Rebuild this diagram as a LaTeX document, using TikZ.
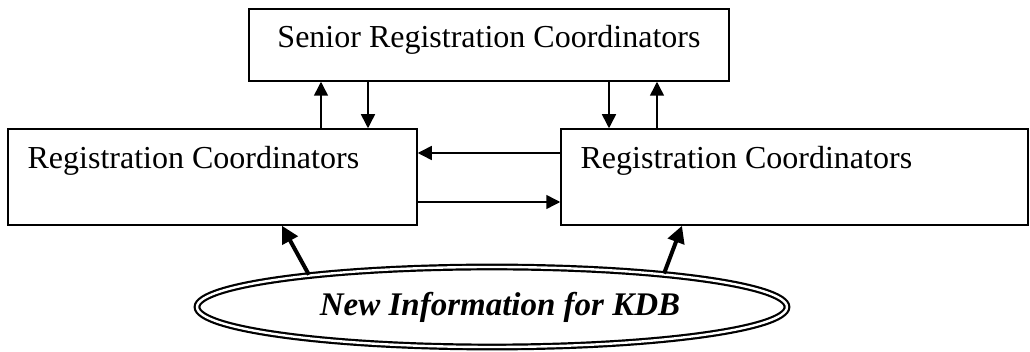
\documentclass[tikz,border=0pt]{standalone}
\usepackage{fontspec}
\setmainfont{Liberation Serif}
\usetikzlibrary{shapes.geometric,arrows.meta}

\begin{document}
\begin{tikzpicture}[x=0.5pt,y=-0.5pt,
  box/.style={draw,line width=.75pt,inner sep=0pt},
  txt/.style={font=\fontsize{16}{19}\selectfont,inner sep=0pt},
  arr/.style={line width=.75pt,-{Triangle[length=7pt,width=7pt]}},
  bigarr/.style={line width=2pt,-{Triangle[length=8.5pt,width=8.5pt]}}]
\useasboundingbox (0,0) rectangle (1030,352);
% boxes
\node[box,minimum width=240pt,minimum height=36pt] (senior) at (489,45) {};
\node[box,minimum width=204.5pt,minimum height=48pt] (left) at (212.5,177) {};
\node[box,minimum width=233.5pt,minimum height=48pt] (right) at (794.5,177) {};
\node[txt,anchor=base] (seniortxt) at ([yshift=-19.5pt]senior.north) {Senior Registration Coordinators};
\node[txt,anchor=base west] (lefttxt) at ([xshift=10pt,yshift=-20pt]left.north west) {Registration Coordinators};
\node[txt,anchor=base west] (righttxt) at ([xshift=10pt,yshift=-20pt]right.north west) {Registration Coordinators};
\node[ellipse,draw,line width=1.1pt,double,double distance=1.2pt,minimum width=295pt,minimum height=40pt,inner sep=0pt,font=\fontsize{16.5}{19}\selectfont\bfseries\itshape] (info) at (492,307) {\hspace*{8pt}New Information for KDB};
% where the arrows sit
\coordinate (lup) at (321,0);
\coordinate (ldown) at (368,0);
\coordinate (rdown) at (609,0);
\coordinate (rup) at (657,0);
\coordinate (hup) at (0,153);
\coordinate (hlow) at (0,202);
\coordinate (ltip) at (282,0);
\coordinate (rtip) at (682,0);
% arrows
\draw[arr] (left.north -| lup) -- (senior.south -| lup);
\draw[arr] (senior.south -| ldown) -- (left.north -| ldown);
\draw[arr] (senior.south -| rdown) -- (right.north -| rdown);
\draw[arr] (right.north -| rup) -- (senior.south -| rup);
\draw[arr] (right.west |- hup) -- (left.east |- hup);
\draw[arr] (left.east |- hlow) -- (right.west |- hlow);
\draw[bigarr] (info.170) -- (left.south -| ltip);
\draw[bigarr] (info.11) -- (right.south -| rtip);
\end{tikzpicture}
\end{document}
